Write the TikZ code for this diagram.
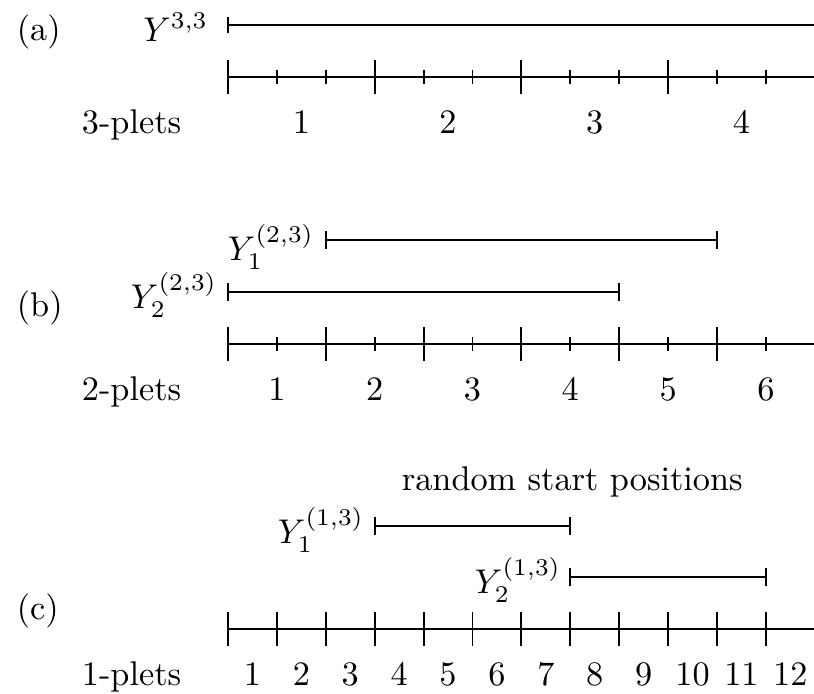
\documentclass[tikz,border=0pt]{standalone}
\usetikzlibrary{calc}
\begin{document}
\begin{tikzpicture}[x=0.020408cm,y=-0.020408cm,line width=1.1pt,
  every node/.style={font=\normalsize, inner sep=0pt, scale=1.99, transform shape},
  txt/.style={anchor=base west},
  num/.style={anchor=base},
  ylbl/.style={anchor=base east},
]
\useasboundingbox (0,0) rectangle (814,693);
\def\U{48.9}
\def\X{228}
% ---------- panel (a)
\node[txt] (pa) at (15,40) {(a)};
\node[ylbl] (ya) at (210,41) {$Y^{3,3}$};
\coordinate (ya1) at (\X,25);
\coordinate (ya2) at (814,25);
\draw (ya1) -- (ya2);
\draw ($(ya1)+(0,-8)$) -- ($(ya1)+(0,8)$);
\coordinate (axa1) at (\X,77);
\coordinate (axa2) at (814,77);
\draw (axa1) -- (axa2);
\foreach \k in {0,...,11}{
  \pgfmathtruncatemacro{\m}{mod(\k,3)}
  \ifnum\m=0
    \draw ($(axa1)+(\k*\U,-17)$) -- ($(axa1)+(\k*\U,17)$);
  \else
    \draw ($(axa1)+(\k*\U,-7)$) -- ($(axa1)+(\k*\U,7)$);
  \fi
}
\node[txt] (pla) at (80,133) {3-plets};
\foreach \j in {1,...,4}{
  \node[num] (na\j) at ($(\X,133)+({(3*\j-1.5)*\U},0)$) {\j};
}
% ---------- panel (b)
\node[txt] (pb) at (15,316) {(b)};
\coordinate (yb11) at ({\X+2*\U},240);
\coordinate (yb12) at ({\X+10*\U},240);
\draw ($(yb11)+(0,-9)$) -- ($(yb11)+(0,9)$);
\draw (yb11) -- (yb12);
\draw ($(yb12)+(0,-9)$) -- ($(yb12)+(0,9)$);
\node[ylbl] (yb1) at (316,260) {$Y_1^{(2,3)}$};
\coordinate (yb21) at (\X,292);
\coordinate (yb22) at ({\X+8*\U},292);
\draw ($(yb21)+(0,-9)$) -- ($(yb21)+(0,9)$);
\draw (yb21) -- (yb22);
\draw ($(yb22)+(0,-9)$) -- ($(yb22)+(0,9)$);
\node[ylbl] (yb2) at (219,308) {$Y_2^{(2,3)}$};
\coordinate (axb1) at (\X,344);
\coordinate (axb2) at (814,344);
\draw (axb1) -- (axb2);
\foreach \k in {0,...,11}{
  \pgfmathtruncatemacro{\m}{mod(\k,2)}
  \ifnum\m=0
    \draw ($(axb1)+(\k*\U,-17)$) -- ($(axb1)+(\k*\U,17)$);
  \else
    \draw ($(axb1)+(\k*\U,-7)$) -- ($(axb1)+(\k*\U,7)$);
  \fi
}
\node[txt] (plb) at (80,400) {2-plets};
\foreach \j in {1,...,6}{
  \node[num] (nb\j) at ($(\X,400)+({(2*\j-1)*\U},0)$) {\j};
}
% ---------- panel (c)
\node[txt] (pc) at (15,619) {(c)};
\node[txt] (rsp) at (400,490) {random start positions};
\coordinate (yc11) at ({\X+3*\U},526);
\coordinate (yc12) at ({\X+7*\U},526);
\draw ($(yc11)+(0,-9)$) -- ($(yc11)+(0,9)$);
\draw (yc11) -- (yc12);
\draw ($(yc12)+(0,-9)$) -- ($(yc12)+(0,9)$);
\node[ylbl] (yc1) at (366,543) {$Y_1^{(1,3)}$};
\coordinate (yc21) at ({\X+7*\U},577);
\coordinate (yc22) at ({\X+11*\U},577);
\draw ($(yc21)+(0,-9)$) -- ($(yc21)+(0,9)$);
\draw (yc21) -- (yc22);
\draw ($(yc22)+(0,-9)$) -- ($(yc22)+(0,9)$);
\node[ylbl] (yc2) at (563,593) {$Y_2^{(1,3)}$};
\coordinate (axc1) at (\X,629);
\coordinate (axc2) at (814,629);
\draw (axc1) -- (axc2);
\foreach \k in {0,...,11}{
  \draw ($(axc1)+(\k*\U,-17)$) -- ($(axc1)+(\k*\U,17)$);
}
\node[txt] (plc) at (80,685) {1-plets};
\foreach \j in {1,...,12}{
  \node[num] (nc\j) at ($(\X,685)+({(\j-0.5)*\U},0)$) {\j};
}
\end{tikzpicture}
\end{document}
